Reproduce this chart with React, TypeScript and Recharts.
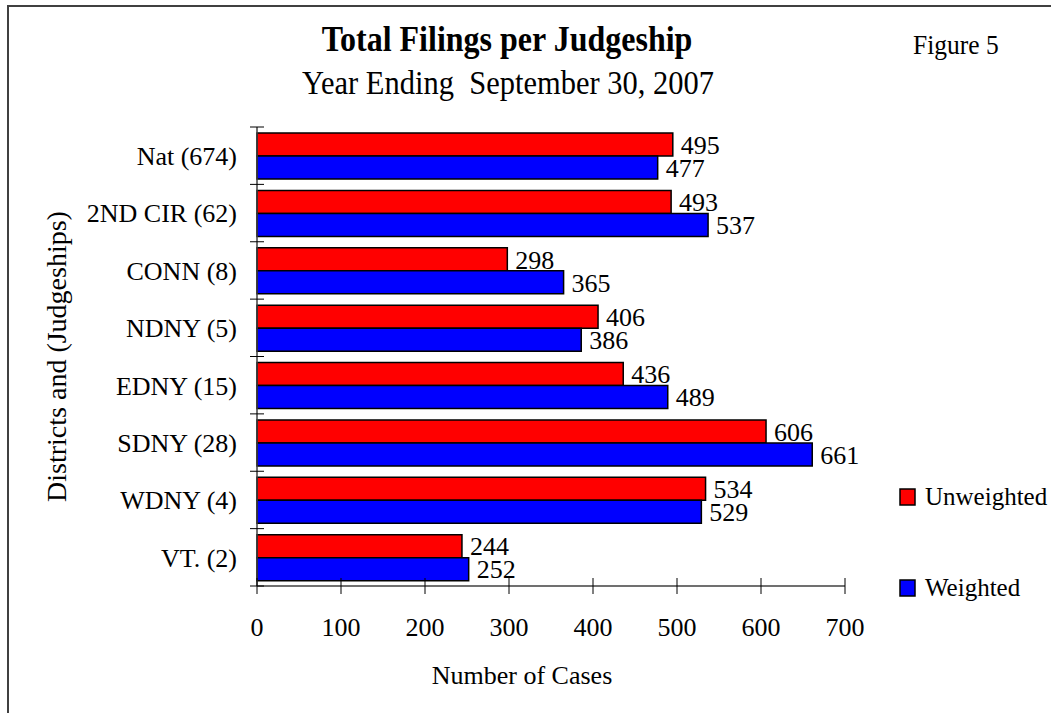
import React from 'react';
import { BarChart, Bar, XAxis, YAxis, LabelList, Legend } from 'recharts';

// districts (judgeships) listed top to bottom
const districts = ['Nat (674)', '2ND CIR (62)', 'CONN (8)', 'NDNY (5)', 'EDNY (15)', 'SDNY (28)', 'WDNY (4)', 'VT. (2)'];
const unweighted = [495, 493, 298, 406, 436, 606, 534, 244];
const weighted = [477, 537, 365, 386, 489, 661, 529, 252];
const xTicks = [0, 100, 200, 300, 400, 500, 600, 700];

const data = districts.map((name, i) => ({
  name,
  unweighted: unweighted[i],
  weighted: weighted[i],
}));

const W = 1051;
const H = 713;
const PLOT_TOP = 127;
const PLOT_BOTTOM = 586;
const BAND = (PLOT_BOTTOM - PLOT_TOP) / districts.length;
const FONT = '"Liberation Serif", "Times New Roman", serif';
const RED = '#ff0000';
const BLUE = '#0000ff';
const TXT = 26;

const XTick = (props: any) => {
  const { x, y, payload } = props;
  return (
    <g>
      <line x1={x} x2={x} y1={y - 8} y2={y + 8} stroke="#000" strokeWidth={1} />
      <text x={x} y={y + 50} textAnchor="middle" fontSize={TXT} fontFamily={FONT} fill="#000">
        {payload.value}
      </text>
    </g>
  );
};

const YTick = (props: any) => {
  const { x, y, payload, index } = props;
  const top = y - BAND / 2;
  return (
    <g>
      <line x1={x - 7} x2={x + 7} y1={top} y2={top} stroke="#000" strokeWidth={1} />
      {index === districts.length - 1 && (
        <line x1={x - 7} x2={x + 7} y1={top + BAND} y2={top + BAND} stroke="#000" strokeWidth={1} />
      )}
      <text x={x - 20} y={y} dy="0.36em" textAnchor="end" fontSize={TXT} fontFamily={FONT} fill="#000">
        {payload.value}
      </text>
    </g>
  );
};

const legendItems = [
  { label: 'Unweighted', color: RED },
  { label: 'Weighted', color: BLUE },
];

const LegendBox = () => (
  <svg width={152} height={130}>
    {legendItems.map((item, i) => (
      <g key={item.label}>
        <rect x={1} y={i * 91 + 9} width={15} height={16} fill={item.color} stroke="#000" strokeWidth={1.5} />
        <text x={26} y={i * 91 + 25} fontSize={25} fontFamily={FONT} fill="#000">
          {item.label}
        </text>
      </g>
    ))}
  </svg>
);

const labelStyle = { fontSize: TXT, fontFamily: FONT, fill: '#000' };

export default function App() {
  return (
    <div style={{ position: 'absolute', left: 0, top: 0, width: W, height: H, background: '#fff', fontFamily: FONT }}>
      <div
        style={{
          position: 'absolute',
          left: 7,
          top: 5,
          width: W - 7,
          height: H - 5,
          boxSizing: 'border-box',
          borderLeft: '2px solid #404040',
          borderTop: '2px solid #404040',
        }}
      />
      <svg width={W} height={H} style={{ position: 'absolute', left: 0, top: 0 }}>
        <text transform="translate(507 51) scale(1 1.12)" textAnchor="middle" fontSize={32} fontWeight="bold" fontFamily={FONT} fill="#000">
          Total Filings per Judgeship
        </text>
        <text transform="translate(508 94) scale(1 1.12)" textAnchor="middle" fontSize={30.5} fontFamily={FONT} fill="#000" style={{ whiteSpace: 'pre' }}>
          Year Ending  September 30, 2007
        </text>
        <text transform="translate(913 54) scale(1 1.1)" fontSize={25.5} fontFamily={FONT} fill="#000">
          Figure 5
        </text>
      </svg>
      <div style={{ position: 'absolute', left: 0, top: 0 }}>
        <BarChart
          width={W}
          height={H}
          data={data}
          layout="vertical"
          margin={{ top: PLOT_TOP, right: 206, bottom: 47, left: 0 }}
          barCategoryGap="10.5%"
          barGap={0}
        >
          <XAxis
            type="number"
            domain={[0, 700]}
            ticks={xTicks}
            height={80}
            tickSize={0}
            tickMargin={0}
            tickLine={false}
            tick={<XTick />}
            axisLine={{ stroke: '#404040', strokeWidth: 1.5 }}
            label={{ value: 'Number of Cases', position: 'bottom', offset: 0, dx: -29, style: labelStyle }}
          />
          <YAxis
            type="category"
            dataKey="name"
            width={257}
            interval={0}
            tickSize={0}
            tickMargin={0}
            tickLine={false}
            tick={<YTick />}
            axisLine={{ stroke: '#404040', strokeWidth: 1.5 }}
            label={{
              value: 'Districts and (Judgeships)',
              angle: -90,
              position: 'insideLeft',
              offset: 56,
              style: { ...labelStyle, fontSize: 28, textAnchor: 'middle' },
            }}
          />
          <Legend
            layout="vertical"
            align="center"
            verticalAlign="middle"
            wrapperStyle={{ left: 899, top: 480, width: 152, height: 130 }}
            content={() => <LegendBox />}
          />
          <Bar dataKey="unweighted" fill={RED} stroke="#000" strokeWidth={1.5} isAnimationActive={false}>
            <LabelList dataKey="unweighted" position="right" offset={8} style={labelStyle} />
          </Bar>
          <Bar dataKey="weighted" fill={BLUE} stroke="#000" strokeWidth={1.5} isAnimationActive={false}>
            <LabelList dataKey="weighted" position="right" offset={8} style={labelStyle} />
          </Bar>
        </BarChart>
      </div>
    </div>
  );
}
